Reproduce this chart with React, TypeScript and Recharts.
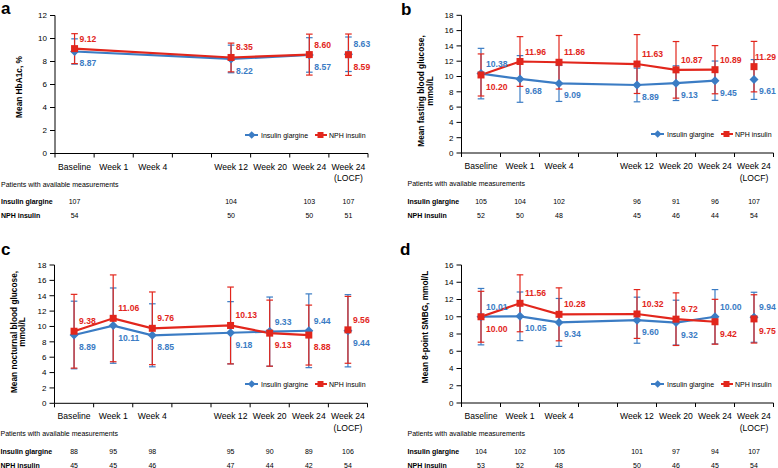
import React from "react";
import { LineChart, Line, XAxis, YAxis, ErrorBar, Legend } from "recharts";

const BLUE = "#3b7cc4";
const RED = "#e2261c";
const FONT = '"Liberation Sans", Arial, sans-serif';

const weeks = ["Baseline", "Week 1", "Week 4", "", "Week 12", "Week 20", "Week 24", "Week 24 (LOCF)"];
const seriesNames = ["Insulin glargine", "NPH insulin"];

// a: HbA1c
const hba1cTicks = [0, 2, 4, 6, 8, 10, 12];
const hba1cGlargine = [8.87, null, null, null, 8.22, null, 8.57, 8.63];
const hba1cGlargineSd = [1.1, null, null, null, 1.2, null, 1.5, 1.5];
const hba1cNph = [9.12, null, null, null, 8.35, null, 8.6, 8.59];
const hba1cNphSd = [1.3, null, null, null, 1.25, null, 1.78, 1.8];
const hba1cGlargineN = [107, null, null, null, 104, null, 103, 107];
const hba1cNphN = [54, null, null, null, 50, null, 50, 51];

// b: fasting blood glucose
const fbgTicks = [0, 2, 4, 6, 8, 10, 12, 14, 16, 18];
const fbgGlargine = [10.38, 9.68, 9.09, null, 8.89, 9.13, 9.45, 9.61];
const fbgGlargineSd = [3.3, 3.05, 2.35, null, 2.2, 2.27, 2.57, 2.6];
const fbgNph = [10.2, 11.96, 11.86, null, 11.63, 10.87, 10.89, 11.29];
const fbgNphSd = [2.75, 3.25, 3.5, null, 3.85, 3.7, 3.15, 3.3];
const fbgGlargineN = [105, 104, 102, null, 96, 91, 96, 107];
const fbgNphN = [52, 50, 48, null, 45, 46, 44, 54];

// c: nocturnal blood glucose
const nbgTicks = [0, 2, 4, 6, 8, 10, 12, 14, 16, 18];
const nbgGlargine = [8.89, 10.11, 8.85, null, 9.18, 9.33, 9.44, 9.44];
const nbgGlargineSd = [4.4, 4.9, 4.1, null, 4.05, 4.5, 4.8, 4.7];
const nbgNph = [9.38, 11.06, 9.76, null, 10.13, 9.13, 8.88, 9.56];
const nbgNphSd = [4.8, 5.65, 4.73, null, 5.0, 4.3, 3.9, 4.35];
const nbgGlargineN = [88, 95, 98, null, 95, 90, 89, 106];
const nbgNphN = [45, 45, 46, null, 47, 44, 42, 54];

// d: 8-point SMBG
const smbgTicks = [0, 2, 4, 6, 8, 10, 12, 14, 16];
const smbgGlargine = [10.01, 10.05, 9.34, null, 9.6, 9.32, 10.0, 9.94];
const smbgGlargineSd = [3.27, 2.82, 2.78, null, 2.67, 2.6, 3.15, 2.9];
const smbgNph = [10.0, 11.56, 10.28, null, 10.32, 9.72, 9.42, 9.75];
const smbgNphSd = [2.95, 3.3, 3.07, null, 2.83, 3.05, 2.6, 2.8];
const smbgGlargineN = [104, 102, 105, null, 101, 97, 94, 107];
const smbgNphN = [53, 52, 48, null, 50, 46, 45, 54];

const H = 238;
const VAL_FONT = 8.6;

const panels = [
  {
    id: "a", ox: 0, oy: 0, w: 389, left: 55, right: 368, top: 15.5, bottom: 153.5,
    letterX: 1, letterY: 14, title: ["Mean HbA1c, %"], titleX: 22, titleY: 87,
    yTicks: hba1cTicks, gl: hba1cGlargine, glSd: hba1cGlargineSd, np: hba1cNph, npSd: hba1cNphSd,
    glN: hba1cGlargineN, npN: hba1cNphN,
  },
  {
    id: "b", ox: 390, oy: 0, w: 388, left: 71.5, right: 383.5, top: 15.3, bottom: 153,
    letterX: 11, letterY: 15, title: ["Mean fasting blood glucose,", "mmol/L"], titleX: 34, titleY: 91,
    yTicks: fbgTicks, gl: fbgGlargine, glSd: fbgGlargineSd, np: fbgNph, npSd: fbgNphSd,
    glN: fbgGlargineN, npN: fbgNphN,
  },
  {
    id: "c", ox: 0, oy: 230, w: 389, left: 54.5, right: 367.5, top: 35, bottom: 173.3,
    letterX: 1, letterY: 25, title: ["Mean nocturnal blood glucose,", "mmol/L"], titleX: 16.5, titleY: 102,
    yTicks: nbgTicks, gl: nbgGlargine, glSd: nbgGlargineSd, np: nbgNph, npSd: nbgNphSd,
    glN: nbgGlargineN, npN: nbgNphN,
  },
  {
    id: "d", ox: 390, oy: 230, w: 388, left: 71.5, right: 383.5, top: 35, bottom: 173,
    letterX: 10, letterY: 25, title: ["Mean 8-point SMBG, mmol/L"], titleX: 38, titleY: 97,
    yTicks: smbgTicks, gl: smbgGlargine, glSd: smbgGlargineSd, np: smbgNph, npSd: smbgNphSd,
    glN: smbgGlargineN, npN: smbgNphN,
  },
];

type Cfg = (typeof panels)[number];

function buildRows(p: Cfg) {
  const last = weeks.length - 1;
  return weeks.map((w, i) => ({
    x: i + 0.5,
    week: w,
    glV: p.gl[i],
    npV: p.np[i],
    gl: i < last ? p.gl[i] : null,
    np: i < last ? p.np[i] : null,
    glL: i === last ? p.gl[i] : null,
    npL: i === last ? p.np[i] : null,
    glSd: i < last ? p.glSd[i] : null,
    npSd: i < last ? p.npSd[i] : null,
    glLSd: i === last ? p.glSd[i] : null,
    npLSd: i === last ? p.npSd[i] : null,
  }));
}

function makeDot(color: string, shape: string, key: string, otherKey: string, chartW: number) {
  return (props: any) => {
    const { cx, cy, payload, index } = props;
    const k = `dot-${key}-${index}`;
    const v = payload ? payload[key] : null;
    if (v == null || cx == null || cy == null || isNaN(cy)) return <g key={k} />;
    const o = payload[otherKey];
    const above = o == null || v >= o;
    const ty = above ? cy - 7 : cy + 15;
    const label = v.toFixed(2);
    // keep the value inside the panel at the right edge
    const tx = Math.min(cx + 5, chartW - 1.5 - label.length * VAL_FONT * 0.5);
    return (
      <g key={k}>
        {shape === "diamond" ? (
          <polygon
            points={`${cx},${cy - 4.5} ${cx + 4.5},${cy} ${cx},${cy + 4.5} ${cx - 4.5},${cy}`}
            fill={color}
          />
        ) : (
          <rect x={cx - 3.5} y={cy - 3.5} width={7} height={7} fill={color} />
        )}
        <text x={tx} y={ty} fill={color} fontSize={VAL_FONT} fontWeight="bold" fontFamily={FONT}>
          {label}
        </text>
      </g>
    );
  };
}

function XTick(props: any) {
  const { x, payload, cfg } = props;
  const i = Math.round(payload.value);
  if (i >= weeks.length) return <g />;
  const cx = x + (cfg.right - cfg.left) / weeks.length / 2;
  const label = weeks[i];
  const cut = label.indexOf(" (");
  const parts = cut > 0 ? [label.slice(0, cut), label.slice(cut + 1)] : [label];
  const txt = { fontFamily: FONT, fill: "#000", textAnchor: "middle" as const };
  return (
    <g>
      {parts.map((t, k) => (
        <text key={k} x={cx} y={cfg.bottom + 16 + k * 11.5} fontSize={8.6} {...txt}>
          {t}
        </text>
      ))}
      {cfg.glN[i] != null && (
        <text x={cx} y={cfg.bottom + 50.5} fontSize={7} {...txt}>
          {cfg.glN[i]}
        </text>
      )}
      {cfg.npN[i] != null && (
        <text x={cx} y={cfg.bottom + 64.8} fontSize={7} {...txt}>
          {cfg.npN[i]}
        </text>
      )}
    </g>
  );
}

function LegendBox() {
  const t = { fontFamily: FONT, fontSize: 7, fill: "#000" };
  return (
    <svg width={126} height={10} style={{ display: "block", overflow: "visible" }}>
      <line x1={0} x2={13} y1={5} y2={5} stroke={BLUE} strokeWidth={2} />
      <polygon points="6.7,1.2 10.5,5 6.7,8.8 2.9,5" fill={BLUE} />
      <text x={16} y={7.5} {...t}>{seriesNames[0]}</text>
      <line x1={70} x2={82} y1={5} y2={5} stroke={RED} strokeWidth={2} />
      <rect x={72.5} y={2} width={6} height={6} fill={RED} />
      <text x={84} y={7.5} {...t}>{seriesNames[1]}</text>
    </svg>
  );
}

function Panel({ cfg }: { cfg: Cfg }) {
  const rows = buildRows(cfg);
  const W = cfg.w;
  const edges = weeks.map((_, i) => i).concat(weeks.length);
  const head = { fontFamily: FONT, fontSize: 7, fill: "#000" };
  return (
    <div style={{ position: "absolute", left: cfg.ox, top: cfg.oy, width: W, height: H }}>
      <LineChart
        width={W}
        height={H}
        data={rows}
        margin={{ top: cfg.top, right: W - cfg.right, bottom: 0, left: 0 }}
      >
        <XAxis
          dataKey="x"
          type="number"
          domain={[0, weeks.length]}
          ticks={edges}
          interval={0}
          height={H - cfg.bottom}
          tickSize={4}
          axisLine={{ stroke: "#000" }}
          tickLine={{ stroke: "#000" }}
          tick={(p: any) => <XTick {...p} cfg={cfg} />}
        />
        <YAxis
          type="number"
          domain={[0, cfg.yTicks[cfg.yTicks.length - 1]]}
          ticks={cfg.yTicks}
          interval={0}
          width={cfg.left}
          tickSize={5}
          tickMargin={3}
          axisLine={{ stroke: "#000" }}
          tickLine={{ stroke: "#000" }}
          tick={{ fontSize: 8, fill: "#000", fontFamily: FONT }}
        />
        <Legend
          layout="vertical"
          align="center"
          verticalAlign="middle"
          content={<LegendBox />}
          wrapperStyle={{ left: cfg.right - 123, top: cfg.bottom - 24, width: 126, height: 10 }}
        />
        <Line
          dataKey="gl"
          name={seriesNames[0]}
          stroke={BLUE}
          strokeWidth={2.2}
          connectNulls
          isAnimationActive={false}
          dot={makeDot(BLUE, "diamond", "gl", "npV", W)}
          activeDot={false}
        >
          <ErrorBar dataKey="glSd" direction="y" width={3.3} stroke={BLUE} strokeWidth={1.2} />
        </Line>
        <Line
          dataKey="glL"
          name={seriesNames[0]}
          stroke={BLUE}
          strokeWidth={2.2}
          legendType="none"
          isAnimationActive={false}
          dot={makeDot(BLUE, "diamond", "glL", "npV", W)}
          activeDot={false}
        >
          <ErrorBar dataKey="glLSd" direction="y" width={3.3} stroke={BLUE} strokeWidth={1.2} />
        </Line>
        <Line
          dataKey="np"
          name={seriesNames[1]}
          stroke={RED}
          strokeWidth={2.2}
          connectNulls
          isAnimationActive={false}
          dot={makeDot(RED, "square", "np", "glV", W)}
          activeDot={false}
        >
          <ErrorBar dataKey="npSd" direction="y" width={3.3} stroke={RED} strokeWidth={1.2} />
        </Line>
        <Line
          dataKey="npL"
          name={seriesNames[1]}
          stroke={RED}
          strokeWidth={2.2}
          legendType="none"
          isAnimationActive={false}
          dot={makeDot(RED, "square", "npL", "glV", W)}
          activeDot={false}
        >
          <ErrorBar dataKey="npLSd" direction="y" width={3.3} stroke={RED} strokeWidth={1.2} />
        </Line>
      </LineChart>
      <svg
        width={W}
        height={H}
        style={{ position: "absolute", left: 0, top: 0, pointerEvents: "none", overflow: "visible" }}
      >
        <text x={cfg.letterX} y={cfg.letterY} fontFamily={FONT} fontSize={17} fontWeight="bold">
          {cfg.id}
        </text>
        <g transform={`translate(${cfg.titleX},${cfg.titleY}) rotate(-90)`}>
          {cfg.title.map((t, k) => (
            <text key={k} x={0} y={k * 8.6} textAnchor="middle" fontFamily={FONT} fontSize={8.3} fontWeight="bold">
              {t}
            </text>
          ))}
        </g>
        <text x={cfg.left - 54} y={cfg.bottom + 33} {...head}>
          Patients with available measurements
        </text>
        <text x={cfg.left - 54} y={cfg.bottom + 50.5} {...head} fontWeight="bold">
          {seriesNames[0]}
        </text>
        <text x={cfg.left - 54} y={cfg.bottom + 64.8} {...head} fontWeight="bold">
          {seriesNames[1]}
        </text>
      </svg>
    </div>
  );
}

export default function App() {
  return (
    <div style={{ position: "absolute", left: 0, top: 0, width: 778, height: 468, background: "#fff" }}>
      {panels.map((p) => (
        <Panel key={p.id} cfg={p} />
      ))}
    </div>
  );
}
